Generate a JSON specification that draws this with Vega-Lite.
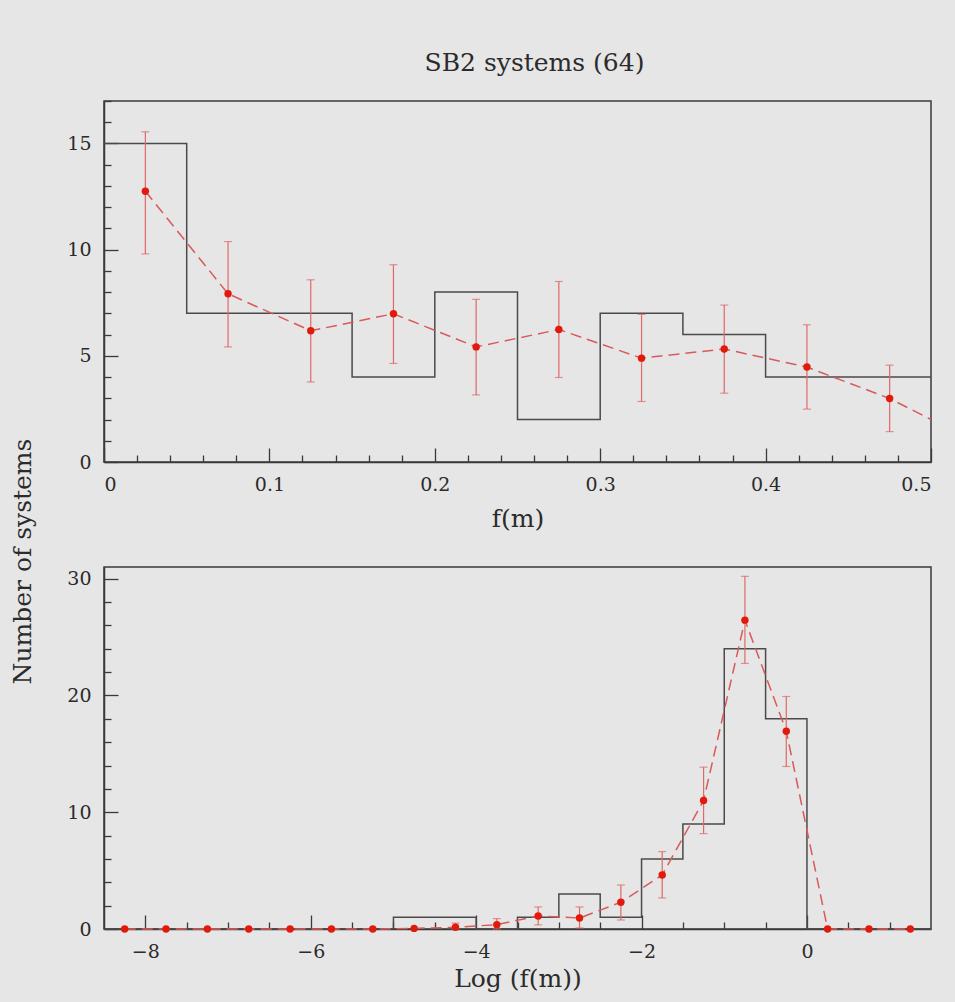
{
  "$schema": "https://vega.github.io/schema/vega-lite/v6.json",
  "background": "#e6e6e6",
  "padding": {"left": 9, "top": 50, "right": 21, "bottom": 10},
  "bounds": "flush",
  "spacing": 105,
  "config": {
    "view": {"stroke": "#3a3a3a", "strokeWidth": 1.5, "fill": null},
    "font": "DejaVu Serif",
    "axis": {
      "domainColor": "#3a3a3a", "domainWidth": 1.5,
      "tickColor": "#3a3a3a", "tickWidth": 1.3,
      "labelFont": "DejaVu Serif", "labelFontSize": 19, "labelColor": "#2b2b2b",
      "titleFont": "DejaVu Serif", "titleFontSize": 25, "titleFontWeight": "normal", "titleColor": "#2b2b2b",
      "grid": false
    }
  },
  "datasets": {
    "top_hist": [
      {"f": 0, "n": 15}, {"f": 0.05, "n": 7}, {"f": 0.1, "n": 7}, {"f": 0.15, "n": 4},
      {"f": 0.2, "n": 8}, {"f": 0.25, "n": 2}, {"f": 0.3, "n": 7}, {"f": 0.35, "n": 6},
      {"f": 0.4, "n": 4}, {"f": 0.45, "n": 4}, {"f": 0.5, "n": 4}
    ],
    "top_pts": [
      {"f": 0.025, "n": 12.75, "lo": 9.8, "hi": 15.55},
      {"f": 0.075, "n": 7.92, "lo": 5.42, "hi": 10.38},
      {"f": 0.125, "n": 6.18, "lo": 3.77, "hi": 8.58},
      {"f": 0.175, "n": 6.98, "lo": 4.64, "hi": 9.29},
      {"f": 0.225, "n": 5.42, "lo": 3.16, "hi": 7.66},
      {"f": 0.275, "n": 6.24, "lo": 3.98, "hi": 8.5},
      {"f": 0.325, "n": 4.89, "lo": 2.85, "hi": 6.95},
      {"f": 0.375, "n": 5.32, "lo": 3.24, "hi": 7.39},
      {"f": 0.425, "n": 4.47, "lo": 2.49, "hi": 6.46},
      {"f": 0.475, "n": 2.99, "lo": 1.43, "hi": 4.56}
    ],
    "top_line": [
      {"f": 0.025, "n": 12.75}, {"f": 0.075, "n": 7.92}, {"f": 0.125, "n": 6.18},
      {"f": 0.175, "n": 6.98}, {"f": 0.225, "n": 5.42}, {"f": 0.275, "n": 6.24},
      {"f": 0.325, "n": 4.89}, {"f": 0.375, "n": 5.32}, {"f": 0.425, "n": 4.47},
      {"f": 0.475, "n": 2.99}, {"f": 0.5, "n": 2.0}
    ],
    "bot_hist": [
      {"l": -8.5, "n": 0}, {"l": -8, "n": 0}, {"l": -7.5, "n": 0}, {"l": -7, "n": 0},
      {"l": -6.5, "n": 0}, {"l": -6, "n": 0}, {"l": -5.5, "n": 0}, {"l": -5, "n": 1},
      {"l": -4.5, "n": 1}, {"l": -4, "n": 0}, {"l": -3.5, "n": 1}, {"l": -3, "n": 3},
      {"l": -2.5, "n": 1}, {"l": -2, "n": 6}, {"l": -1.5, "n": 9}, {"l": -1, "n": 24},
      {"l": -0.5, "n": 18}, {"l": 0, "n": 0}, {"l": 0.5, "n": 0}, {"l": 1, "n": 0},
      {"l": 1.5, "n": 0}
    ],
    "bot_pts": [
      {"l": -8.25, "n": 0}, {"l": -7.75, "n": 0}, {"l": -7.25, "n": 0}, {"l": -6.75, "n": 0},
      {"l": -6.25, "n": 0}, {"l": -5.75, "n": 0}, {"l": -5.25, "n": 0}, {"l": -4.75, "n": 0.05},
      {"l": -4.25, "n": 0.15, "lo": 0, "hi": 0.5},
      {"l": -3.75, "n": 0.37, "lo": 0, "hi": 0.89},
      {"l": -3.25, "n": 1.12, "lo": 0.35, "hi": 1.89},
      {"l": -2.75, "n": 0.94, "lo": 0.09, "hi": 1.89},
      {"l": -2.25, "n": 2.29, "lo": 0.77, "hi": 3.77},
      {"l": -1.75, "n": 4.63, "lo": 2.66, "hi": 6.63},
      {"l": -1.25, "n": 11.0, "lo": 8.17, "hi": 13.86},
      {"l": -0.75, "n": 26.45, "lo": 22.74, "hi": 30.2},
      {"l": -0.25, "n": 16.94, "lo": 13.92, "hi": 19.91},
      {"l": 0.25, "n": 0}, {"l": 0.75, "n": 0}, {"l": 1.25, "n": 0}
    ]
  },
  "vconcat": [
    {
      "width": 827,
      "height": 361,
      "title": {"text": "SB2 systems (64)", "fontSize": 25, "font": "DejaVu Serif", "fontWeight": "normal", "color": "#2b2b2b", "anchor": "middle", "dx": 17, "offset": 24},
      "layer": [
        {
          "data": {"name": "top_hist"},
          "mark": {"type": "line", "interpolate": "step-after", "color": "#4a4a4a", "strokeWidth": 1.5},
          "encoding": {
            "x": {"field": "f", "type": "quantitative", "scale": {"domain": [0, 0.5], "nice": false, "zero": false},
                  "axis": {"orient": "bottom", "values": [0, 0.1, 0.2, 0.3, 0.4, 0.5], "format": "~g", "tickSize": -14, "labelPadding": 27, "title": "f(m)", "titlePadding": 12}},
            "y": {"field": "n", "type": "quantitative", "scale": {"domain": [0, 17], "nice": false},
                  "axis": {"orient": "left", "values": [0, 5, 10, 15], "tickSize": -14, "labelPadding": 27, "title": null}}
          }
        },
        {
          "data": {"name": "top_line"},
          "mark": {"type": "line", "color": "#d95a5a", "strokeDash": [11, 6], "strokeWidth": 1.5},
          "encoding": {
            "x": {"field": "f", "type": "quantitative",
                  "axis": {"orient": "bottom", "values": [0.02, 0.04, 0.06, 0.08, 0.12, 0.14, 0.16, 0.18, 0.22, 0.24, 0.26, 0.28, 0.32, 0.34, 0.36, 0.38, 0.42, 0.44, 0.46, 0.48], "tickSize": -7, "labels": false, "domain": false, "title": null}},
            "y": {"field": "n", "type": "quantitative",
                  "axis": {"orient": "left", "values": [1, 2, 3, 4, 6, 7, 8, 9, 11, 12, 13, 14, 16, 17], "tickSize": -7, "labels": false, "domain": false, "title": null}}
          }
        },
        {
          "data": {"name": "top_pts"},
          "mark": {"type": "errorbar", "color": "#e06868", "thickness": 1.2, "ticks": {"size": 8, "thickness": 1.2, "color": "#e06868"}},
          "encoding": {
            "x": {"field": "f", "type": "quantitative", "axis": null},
            "y": {"field": "lo", "type": "quantitative", "axis": null},
            "y2": {"field": "hi"}
          }
        },
        {
          "data": {"name": "top_pts"},
          "mark": {"type": "point", "shape": "circle", "filled": true, "opacity": 1, "size": 55, "color": "#e21a0c"},
          "encoding": {
            "x": {"field": "f", "type": "quantitative", "axis": null},
            "y": {"field": "n", "type": "quantitative", "axis": null}
          }
        }
      ],
      "resolve": {"axis": {"x": "independent", "y": "independent"}}
    },
    {
      "width": 827,
      "height": 362,
      "layer": [
        {
          "data": {"name": "bot_hist"},
          "mark": {"type": "line", "interpolate": "step-after", "color": "#4a4a4a", "strokeWidth": 1.5},
          "encoding": {
            "x": {"field": "l", "type": "quantitative", "scale": {"domain": [-8.5, 1.5], "nice": false, "zero": false},
                  "axis": {"orient": "bottom", "values": [-8, -6, -4, -2, 0], "format": "~g", "tickSize": -14, "labelPadding": 27, "title": "Log (f(m))", "titlePadding": 5}},
            "y": {"field": "n", "type": "quantitative", "scale": {"domain": [0, 31], "nice": false},
                  "axis": {"orient": "left", "values": [0, 10, 20, 30], "tickSize": -14, "labelPadding": 27,
                           "title": "Number of systems", "titleAngle": 270, "titleAlign": "center", "titleBaseline": "alphabetic", "titleX": -74, "titleY": -6}}
          }
        },
        {
          "data": {"name": "bot_pts"},
          "mark": {"type": "line", "color": "#d95a5a", "strokeDash": [11, 6], "strokeWidth": 1.5},
          "encoding": {
            "x": {"field": "l", "type": "quantitative",
                  "axis": {"orient": "bottom", "values": [-7.5, -7, -6.5, -5.5, -5, -4.5, -3.5, -3, -2.5, -1.5, -1, -0.5, 0.5, 1], "tickSize": -7, "labels": false, "domain": false, "title": null}},
            "y": {"field": "n", "type": "quantitative",
                  "axis": {"orient": "left", "values": [2, 4, 6, 8, 12, 14, 16, 18, 22, 24, 26, 28], "tickSize": -7, "labels": false, "domain": false, "title": null}}
          }
        },
        {
          "data": {"name": "bot_pts"},
          "mark": {"type": "errorbar", "color": "#e06868", "thickness": 1.2, "ticks": {"size": 8, "thickness": 1.2, "color": "#e06868"}},
          "encoding": {
            "x": {"field": "l", "type": "quantitative", "axis": null},
            "y": {"field": "lo", "type": "quantitative", "axis": null},
            "y2": {"field": "hi"}
          }
        },
        {
          "data": {"name": "bot_pts"},
          "mark": {"type": "point", "shape": "circle", "filled": true, "opacity": 1, "size": 55, "color": "#e21a0c"},
          "encoding": {
            "x": {"field": "l", "type": "quantitative", "axis": null},
            "y": {"field": "n", "type": "quantitative", "axis": null}
          }
        }
      ],
      "resolve": {"axis": {"x": "independent", "y": "independent"}}
    }
  ]
}
